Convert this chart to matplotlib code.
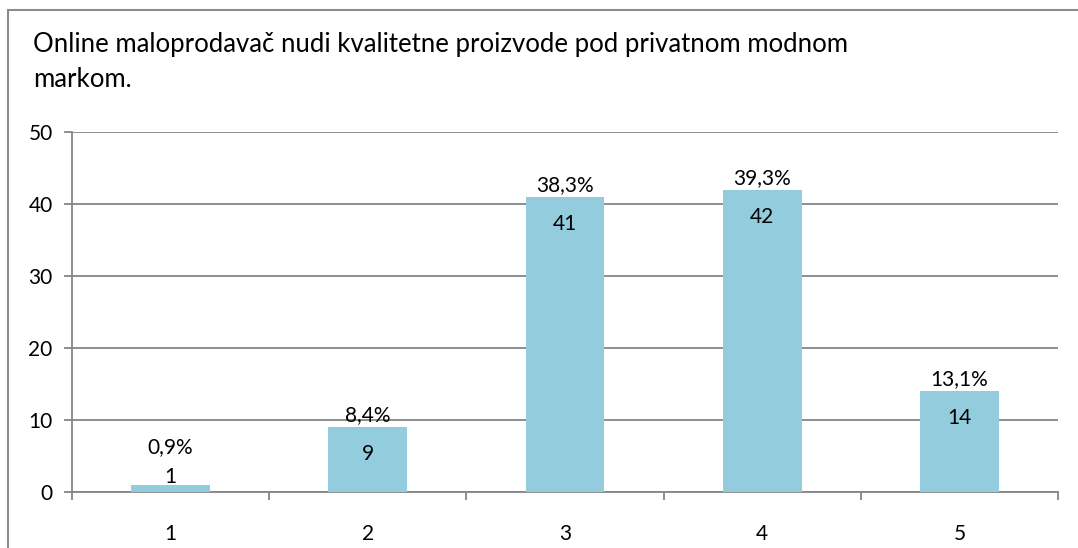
import matplotlib
matplotlib.use("Agg")
import matplotlib.pyplot as plt
from matplotlib.patches import Rectangle

# data
categories = ["1", "2", "3", "4", "5"]
counts = [1, 9, 41, 42, 14]
percents = ["0,9%", "8,4%", "38,3%", "39,3%", "13,1%"]
title = "Online maloprodavač nudi kvalitetne proizvode pod privatnom modnom\nmarkom."

plt.rcParams["font.family"] = ["Lato", "DejaVu Sans"]

W, H = 1078, 548
fig = plt.figure(figsize=(W / 100, H / 100), dpi=100)

# outer chart border (cut off on the right and bottom)
fig.patches.append(Rectangle((8 / W, -0.1), 1.2, 1 - 10 / H + 0.1, transform=fig.transFigure,
                             fill=False, edgecolor="#8c8c8c", linewidth=1.5))

fig.text(33 / W, 1 - 32 / H, title, fontsize=18.5, va="top", ha="left", linespacing=1.5)

left, right, top, bottom = 72, 1058, 132, 492
ax = fig.add_axes([left / W, 1 - bottom / H, (right - left) / W, (bottom - top) / H])

x = range(len(categories))
ax.bar(x, counts, width=0.4, color="#93cddd", zorder=3)

ax.set_xlim(-0.5, len(categories) - 0.5)
ax.set_ylim(0, 50)
ax.set_yticks(range(0, 51, 10))
ax.yaxis.grid(True, color="#868686", linewidth=1.3, zorder=0)

for s in ["top", "right"]:
    ax.spines[s].set_visible(False)
ax.spines["left"].set_color("#868686")
ax.spines["bottom"].set_color("#868686")
ax.spines["left"].set_linewidth(1.3)
ax.spines["bottom"].set_linewidth(1.3)

ax.set_xticks([i + 0.5 for i in range(-1, len(categories))], minor=False)
ax.set_xticklabels([])
ax.set_xticks(list(x), minor=True)
ax.set_xticklabels(categories, minor=True)
ax.tick_params(axis="x", which="major", length=6, color="#868686", width=1.3)
ax.tick_params(axis="x", which="minor", length=0, pad=23, labelsize=15)
ax.tick_params(axis="y", length=6, color="#868686", width=1.3, labelsize=15, pad=8)

px = 50 / (bottom - top)  # data units per pixel
for i, (c, p) in enumerate(zip(counts, percents)):
    cy = max(c - 27 * px, 15 * px)
    ax.text(i, cy, str(c), ha="center", va="center", fontsize=15, zorder=4)
    py = max(c + 12 * px, cy + 30 * px)
    ax.text(i, py, p, ha="center", va="center", fontsize=15, zorder=4)

fig.savefig("out.png", dpi=100)
